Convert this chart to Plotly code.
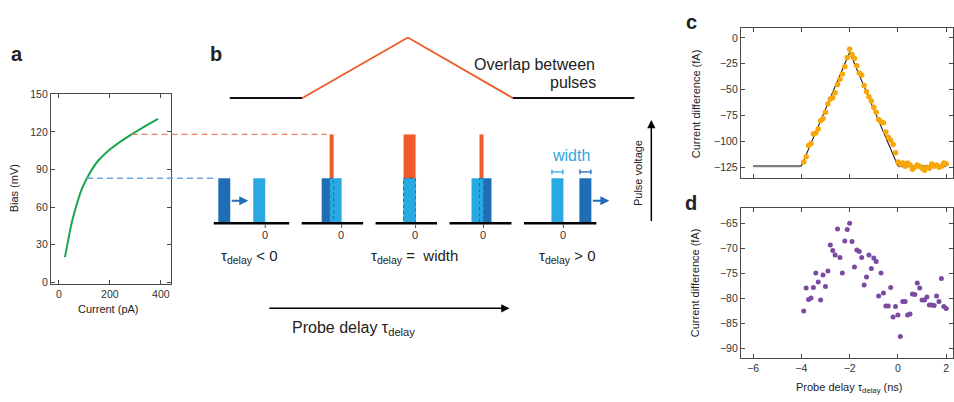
import numpy as np
import plotly.graph_objects as go

# ---------------- data ----------------
# (a) bias vs tunnel current
current_pA = [24, 37, 50, 63, 76, 89, 109, 128, 154, 194, 233, 285, 337, 389]
bias_mV = [20, 34, 47, 57, 66, 74, 82.5, 89.5, 97, 105, 111, 118, 124.5, 130.5]

# pulse amplitude and summed amplitude where the two pulses overlap
pulse_level_mV = 83
overlap_level_mV = 118

# (c), (d) current difference vs probe delay
delay_ns = [-3.9, -3.8, -3.7, -3.6, -3.5, -3.4, -3.3, -3.2, -3.1, -3.0,
            -2.9, -2.8, -2.7, -2.6, -2.5, -2.4, -2.3, -2.2, -2.1, -2.0,
            -1.9, -1.8, -1.7, -1.6, -1.5, -1.4, -1.3, -1.2, -1.1, -1.0,
            -0.9, -0.8, -0.7, -0.6, -0.5, -0.4, -0.3, -0.2, -0.1, 0.0,
            0.1, 0.2, 0.3, 0.4, 0.5, 0.6, 0.7, 0.8, 0.9, 1.0,
            1.1, 1.2, 1.3, 1.4, 1.5, 1.6, 1.7, 1.8, 1.9, 2.0]
overlap_current_fA = [-120, -115, -104, -102, -93, -92, -88, -80, -78, -72,
                      -64, -59, -58, -53, -45, -40, -35, -28, -19, -11,
                      -16, -20, -27, -34, -36, -46, -52, -57, -61, -67,
                      -72, -79, -81, -82, -91, -96, -99, -103, -111, -120,
                      -122, -121, -124, -121, -123, -127, -125, -123, -124, -126,
                      -128, -125, -126, -122, -124, -123, -125, -124, -121, -122]
model_delay_ns = [-6, -4, -2, 0, 2]
model_current_fA = [-124, -124, -14, -124, -124]
lower_bias_current_fA = [-82.6, -78.0, -80.3, -80.0, -77.9, -75.0, -76.8, -80.4, -75.4, -77.7,
                         -74.6, -69.4, -70.5, -71.4, -66.2, -71.9, -75.0, -68.6, -66.3, -65.0,
                         -68.7, -73.8, -70.4, -70.7, -71.9, -77.4, -75.8, -71.4, -74.1, -72.0,
                         -72.7, -79.6, -75.0, -79.0, -81.6, -81.6, -77.9, -83.8, -81.7, -83.4,
                         -87.7, -80.7, -80.7, -83.4, -83.2, -79.2, -79.3, -77.0, -78.0, -80.4,
                         -80.4, -79.8, -81.4, -81.4, -81.5, -79.6, -80.7, -76.1, -81.7, -82.1]

a_xticks = [0, 200, 400]
a_yticks = [0, 30, 60, 90, 120, 150]
cd_xticks = [-6, -4, -2, 0, 2]
c_yticks = [0, -25, -50, -75, -100, -125]
d_yticks = [-65, -70, -75, -80, -85, -90]

# ---------------- geometry (pixels) ----------------
W, H = 954, 402
A_BOX = (51, 171, 90, 285)          # left, right, top, bottom
C_BOX = (741.7, 954, 22.7, 176)
D_BOX = (741.7, 954, 207.3, 361)
A_XRANGE = [-31, 439]
A_YRANGE = [-1.4, 150.5]
CD_XRANGE = [-6.5, 2.28]
C_YRANGE = [-135.1, 9.4]
D_YRANGE = [-92, -62]

FONT = "Liberation Sans, Arial, Helvetica, sans-serif"
TXT = "#222222"
AXIS = "#4a4a4a"
GREEN = "#1ba550"
DARK_BLUE = "#1f6db5"
LIGHT_BLUE = "#29a9e1"
ORANGE = "#f15a29"
AMBER = "#f7a707"
PURPLE = "#7b4ba2"


def dom_x(box):
    return [box[0] / W, box[1] / W]


def dom_y(box):
    return [1 - box[3] / H, 1 - box[2] / H]


def a_to_px(cur, bias):
    """Map a point of panel a (pA, mV) to figure pixels."""
    l, r, t, b = A_BOX
    x = l + (cur - A_XRANGE[0]) / (A_XRANGE[1] - A_XRANGE[0]) * (r - l)
    y = t + (A_YRANGE[1] - bias) / (A_YRANGE[1] - A_YRANGE[0]) * (b - t)
    return x, y


fig = go.Figure()

# (a)
fig.add_trace(go.Scatter(x=current_pA, y=bias_mV, mode="lines",
                         line=dict(color=GREEN, width=2, shape="spline", smoothing=1.0),
                         xaxis="x", yaxis="y", hoverinfo="skip"))

# (c) model: flat baseline segments and triangular overlap
fig.add_trace(go.Scatter(x=model_delay_ns[0:2], y=model_current_fA[0:2], mode="lines",
                         line=dict(color="#7f7f7f", width=2.2), xaxis="x2", yaxis="y2"))
fig.add_trace(go.Scatter(x=model_delay_ns[3:5], y=model_current_fA[3:5], mode="lines",
                         line=dict(color="#7f7f7f", width=2.2), xaxis="x2", yaxis="y2"))
fig.add_trace(go.Scatter(x=model_delay_ns[1:4], y=model_current_fA[1:4], mode="lines",
                         line=dict(color="#111111", width=1.1), xaxis="x2", yaxis="y2"))
fig.add_trace(go.Scatter(x=delay_ns, y=overlap_current_fA, mode="markers",
                         marker=dict(color=AMBER, size=5.5), xaxis="x2", yaxis="y2"))

# (d)
fig.add_trace(go.Scatter(x=delay_ns, y=lower_bias_current_fA, mode="markers",
                         marker=dict(color=PURPLE, size=5), xaxis="x3", yaxis="y3"))

# full-figure canvas for the schematic of panel b
fig.add_trace(go.Scatter(x=[], y=[], xaxis="x4", yaxis="y4"))

ax_common = dict(showline=True, linecolor=AXIS, linewidth=1.2, mirror="ticks",
                 ticks="inside", ticklen=4, tickcolor=AXIS, tickwidth=1,
                 showgrid=False, zeroline=False, fixedrange=True,
                 tickfont=dict(size=10.5, color="#333333", family=FONT))

fig.update_layout(
    width=W, height=H, margin=dict(l=0, r=0, t=0, b=0),
    paper_bgcolor="white", plot_bgcolor="rgba(0,0,0,0)",
    showlegend=False, font=dict(family=FONT, color=TXT),
    xaxis=dict(domain=dom_x(A_BOX), range=A_XRANGE, tickvals=a_xticks, anchor="y", **ax_common),
    yaxis=dict(domain=dom_y(A_BOX), range=A_YRANGE, tickvals=a_yticks, anchor="x", **ax_common),
    xaxis2=dict(domain=dom_x(C_BOX), range=CD_XRANGE, tickvals=cd_xticks, showticklabels=False,
                anchor="y2", **ax_common),
    yaxis2=dict(domain=dom_y(C_BOX), range=C_YRANGE, tickvals=c_yticks, anchor="x2", **ax_common),
    xaxis3=dict(domain=dom_x(D_BOX), range=CD_XRANGE, tickvals=cd_xticks, anchor="y3", **ax_common),
    yaxis3=dict(domain=dom_y(D_BOX), range=D_YRANGE, tickvals=d_yticks, anchor="x3", **ax_common),
    xaxis4=dict(domain=[0, 1], range=[0, W], visible=False, fixedrange=True, anchor="y4"),
    yaxis4=dict(domain=[0, 1], range=[H, 0], visible=False, fixedrange=True, anchor="x4"),
)

shapes = []
annots = []


def seg(x0, y0, x1, y1, color, width, dash=None):
    shapes.append(dict(type="line", xref="x4", yref="y4", x0=x0, y0=y0, x1=x1, y1=y1,
                       line=dict(color=color, width=width, dash=dash or "solid"), layer="above"))


def box(x0, y0, x1, y1, fill, line=None, dash=None):
    shapes.append(dict(type="rect", xref="x4", yref="y4", x0=x0, y0=y0, x1=x1, y1=y1,
                       fillcolor=fill, layer="above",
                       line=dict(color=line or "rgba(0,0,0,0)", width=1 if line else 0,
                                 dash=dash or "solid")))


def text(x, y, s, size, color=TXT, xanchor="center", angle=0, bold=False):
    annots.append(dict(xref="x4", yref="y4", x=x, y=y, text=f"<b>{s}</b>" if bold else s,
                       showarrow=False, xanchor=xanchor, yanchor="middle", textangle=angle,
                       font=dict(size=size, color=color, family=FONT)))


def arrow(x0, y0, x1, y1, color, width, size=1.0):
    annots.append(dict(xref="x4", yref="y4", axref="x4", ayref="y4", x=x1, y=y1, ax=x0, ay=y0,
                       text="", showarrow=True, arrowhead=2, arrowsize=size, arrowwidth=width,
                       arrowcolor=color, standoff=0, startstandoff=0))


# schematic pulse trains
PULSE_W = 12
BASE_Y = 222.7
group_zero_px = [265.5, 342, 416, 484, 564]
group_base_px = [(214, 289.5), (302, 363.5), (376, 437.5), (450, 512), (524.5, 597)]
probe_shift_px = [-35, -8, 0, 8, 28]

_, pulse_top = a_to_px(0, pulse_level_mV)
_, overlap_top = a_to_px(0, overlap_level_mV)
mid_y = (pulse_top + BASE_Y) / 2

# dashed guides from the I-V curve to the pulse heights
x_pulse, y_pulse = a_to_px(np.interp(pulse_level_mV, bias_mV, current_pA), pulse_level_mV)
x_over, y_over = a_to_px(np.interp(overlap_level_mV, bias_mV, current_pA), overlap_level_mV)

for i, (z, (b0, b1), d) in enumerate(zip(group_zero_px, group_base_px, probe_shift_px)):
    pump = (z - PULSE_W, z)
    probe = (z - PULSE_W + d, z + d)
    box(probe[0], pulse_top, probe[1], BASE_Y, DARK_BLUE)
    box(pump[0], pulse_top, pump[1], BASE_Y, LIGHT_BLUE)
    lo, hi = max(pump[0], probe[0]), min(pump[1], probe[1])
    if hi > lo:
        box(lo, overlap_top, hi, pulse_top, ORANGE)
        box(lo, pulse_top, hi, BASE_Y, "rgba(0,0,0,0)", line=DARK_BLUE, dash="dot")
    seg(b0, BASE_Y, b1, BASE_Y, "#000000", 2.5)
    seg(z, BASE_Y + 1, z, BASE_Y + 5, "#555555", 1)
    text(z - 0.5, BASE_Y + 12, "0", 11, color="#333333")
    if i == 0:
        seg(x_pulse, y_pulse, probe[0] - 2.5, y_pulse, "#6aa6dc", 1.6, dash="6px,4px")
    if i == 1:
        seg(x_over, y_over, lo - 3, y_over, "#ef7f62", 1.2, dash="6px,4px")
    if d < -PULSE_W or d > PULSE_W:
        arrow(probe[1], mid_y, probe[1] + 18, mid_y, DARK_BLUE, 2, 0.9)
    if i == 4:
        for (l, r), c in ((pump, LIGHT_BLUE), (probe, DARK_BLUE)):
            seg(l + 0.5, pulse_top - 6.5, r - 0.5, pulse_top - 6.5, c, 1.3)
            seg(l + 0.5, pulse_top - 9, l + 0.5, pulse_top - 4, c, 1.3)
            seg(r - 0.5, pulse_top - 9, r - 0.5, pulse_top - 4, c, 1.3)
        text((pump[0] + probe[1]) / 2, pulse_top - 23, "width", 16, color=LIGHT_BLUE)

# overlap vs delay sketch
TRI_X = [230, 302.7, 408.3, 513.3, 635]
TRI_Y = [94.3, 94.3, 32.3, 94.3, 94.3]
seg(TRI_X[0], TRI_Y[0], TRI_X[1], TRI_Y[1], "#111111", 2)
seg(TRI_X[1], TRI_Y[1], TRI_X[2], TRI_Y[2], ORANGE, 1.8)
seg(TRI_X[2], TRI_Y[2], TRI_X[3], TRI_Y[3], ORANGE, 1.8)
seg(TRI_X[3], TRI_Y[3], TRI_X[4], TRI_Y[4], "#111111", 2)
text(598, 60, "Overlap between", 16, xanchor="right")
text(599, 78.5, "pulses", 16, xanchor="right")

# case labels
text(249, 256.5, "τ<sub>delay</sub> &lt; 0", 15)
text(414.5, 256.5, "τ<sub>delay</sub> =  width", 15)
text(568, 256.5, "τ<sub>delay</sub> &gt; 0", 15)

# probe delay axis arrow
arrow(268, 310, 510, 310, "#000000", 1.5, 1.1)
text(354, 331, "Probe delay τ<sub>delay</sub>", 16)

# pulse voltage arrow
arrow(652, 222, 652, 117, "#000000", 1.5, 1.1)
text(638.5, 171.5, "Pulse voltage", 11, angle=-90)

# panel letters
text(17, 49, "a", 20, bold=True)
text(216, 49, "b", 20, bold=True)
text(692, 16, "c", 20, bold=True)
text(692, 202, "d", 20, bold=True)

# axis titles
text(13.5, 186.5, "Bias (mV)", 11, angle=-90)
text(108.5, 310.5, "Current (pA)", 11)
text(696.5, 100, "Current difference (fA)", 11, angle=-90)
text(696.5, 283.5, "Current difference (fA)", 11, angle=-90)
text(850.5, 391.5, "Probe delay τ<sub>delay</sub> (ns)", 11)

fig.update_layout(shapes=shapes, annotations=annots)
fig.write_html("out.html")
